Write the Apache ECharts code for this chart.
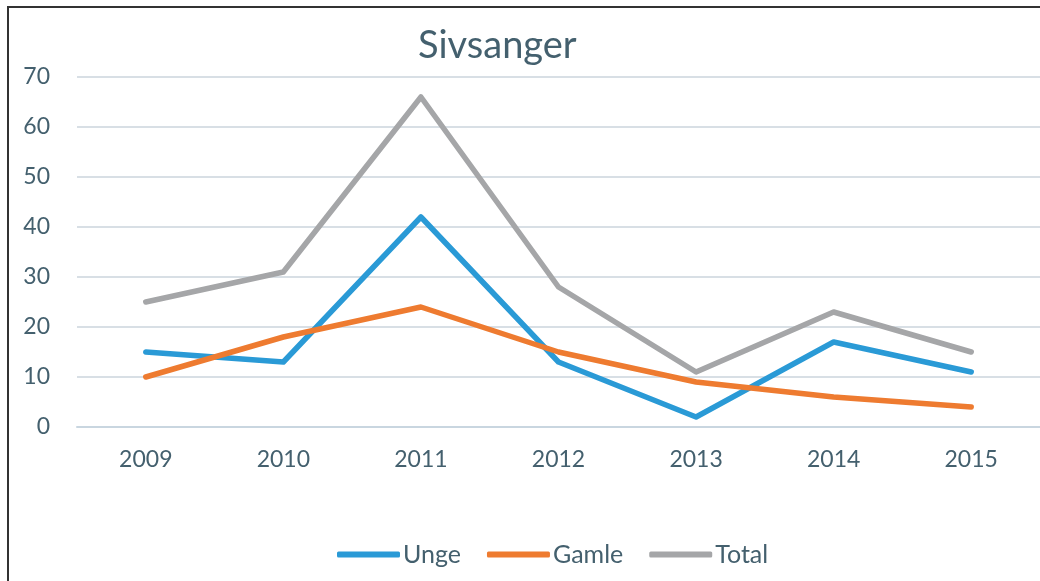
<!DOCTYPE html>
<html>
<head>
<meta charset="utf-8">
<script src="https://cdn.jsdelivr.net/npm/echarts@6/dist/echarts.min.js"></script>
<style>
  html, body { margin: 0; padding: 0; background: #fff; overflow: hidden; }
  #frame { position: absolute; left: 7px; top: 6px; width: 1100px; height: 700px;
           border-left: 2px solid #333; border-top: 2px solid #333; }
  #canvas { position: absolute; left: 0; top: 0; width: 1040px; height: 581px; }
</style>
</head>
<body>
<div id="frame"></div>
<div id="canvas"></div>
<script>
var years = ['2009', '2010', '2011', '2012', '2013', '2014', '2015'];
var unge = [15, 13, 42, 13, 2, 17, 11];
var gamle = [10, 18, 24, 15, 9, 6, 4];
var total = [25, 31, 66, 28, 11, 23, 15];

var textColor = '#44606e';
var fontFam = 'Lato, "Open Sans", sans-serif';

var myChart = echarts.init(document.getElementById('canvas'));

var line = function(name, data, color) {
    return {
        name: name,
        type: 'line',
        data: data,
        symbol: 'none',
        lineStyle: { width: 5.5, color: color, cap: 'round', join: 'round' },
        itemStyle: { color: color }
    };
};

var option = {
    animation: false,
    title: {
        text: 'Sivsanger',
        left: 413,
        top: 22,
        textStyle: { color: textColor, fontSize: 38, fontWeight: 'normal', fontFamily: fontFam }
    },
    legend: {
        data: ['Unge', 'Gamle', 'Total'],
        left: 332,
        top: 537,
        icon: 'roundRect',
        itemWidth: 63,
        itemHeight: 6,
        itemGap: 26,
        textStyle: { color: textColor, fontSize: 25, fontFamily: fontFam, padding: [0, 0, 0, -2] }
    },
    grid: { left: 77, right: -5, top: 77, bottom: 154, containLabel: false },
    xAxis: {
        type: 'category',
        data: years,
        boundaryGap: true,
        axisLine: { show: true, lineStyle: { color: '#c9d6e0', width: 2 } },
        axisTick: { show: false },
        axisLabel: { color: textColor, fontSize: 23, fontFamily: fontFam, margin: 21 }
    },
    yAxis: {
        type: 'value',
        min: 0,
        max: 70,
        interval: 10,
        axisLine: { show: false },
        axisTick: { show: false },
        axisLabel: { color: textColor, fontSize: 23, fontFamily: fontFam, margin: 27 },
        splitLine: { lineStyle: { color: '#d8dfe5', width: 2 } }
    },
    series: [
        line('Unge', unge, '#2a9ad6'),
        line('Gamle', gamle, '#ee7b30'),
        line('Total', total, '#a5a6a8')
    ]
};
myChart.setOption(option);
</script>
</body>
</html>
